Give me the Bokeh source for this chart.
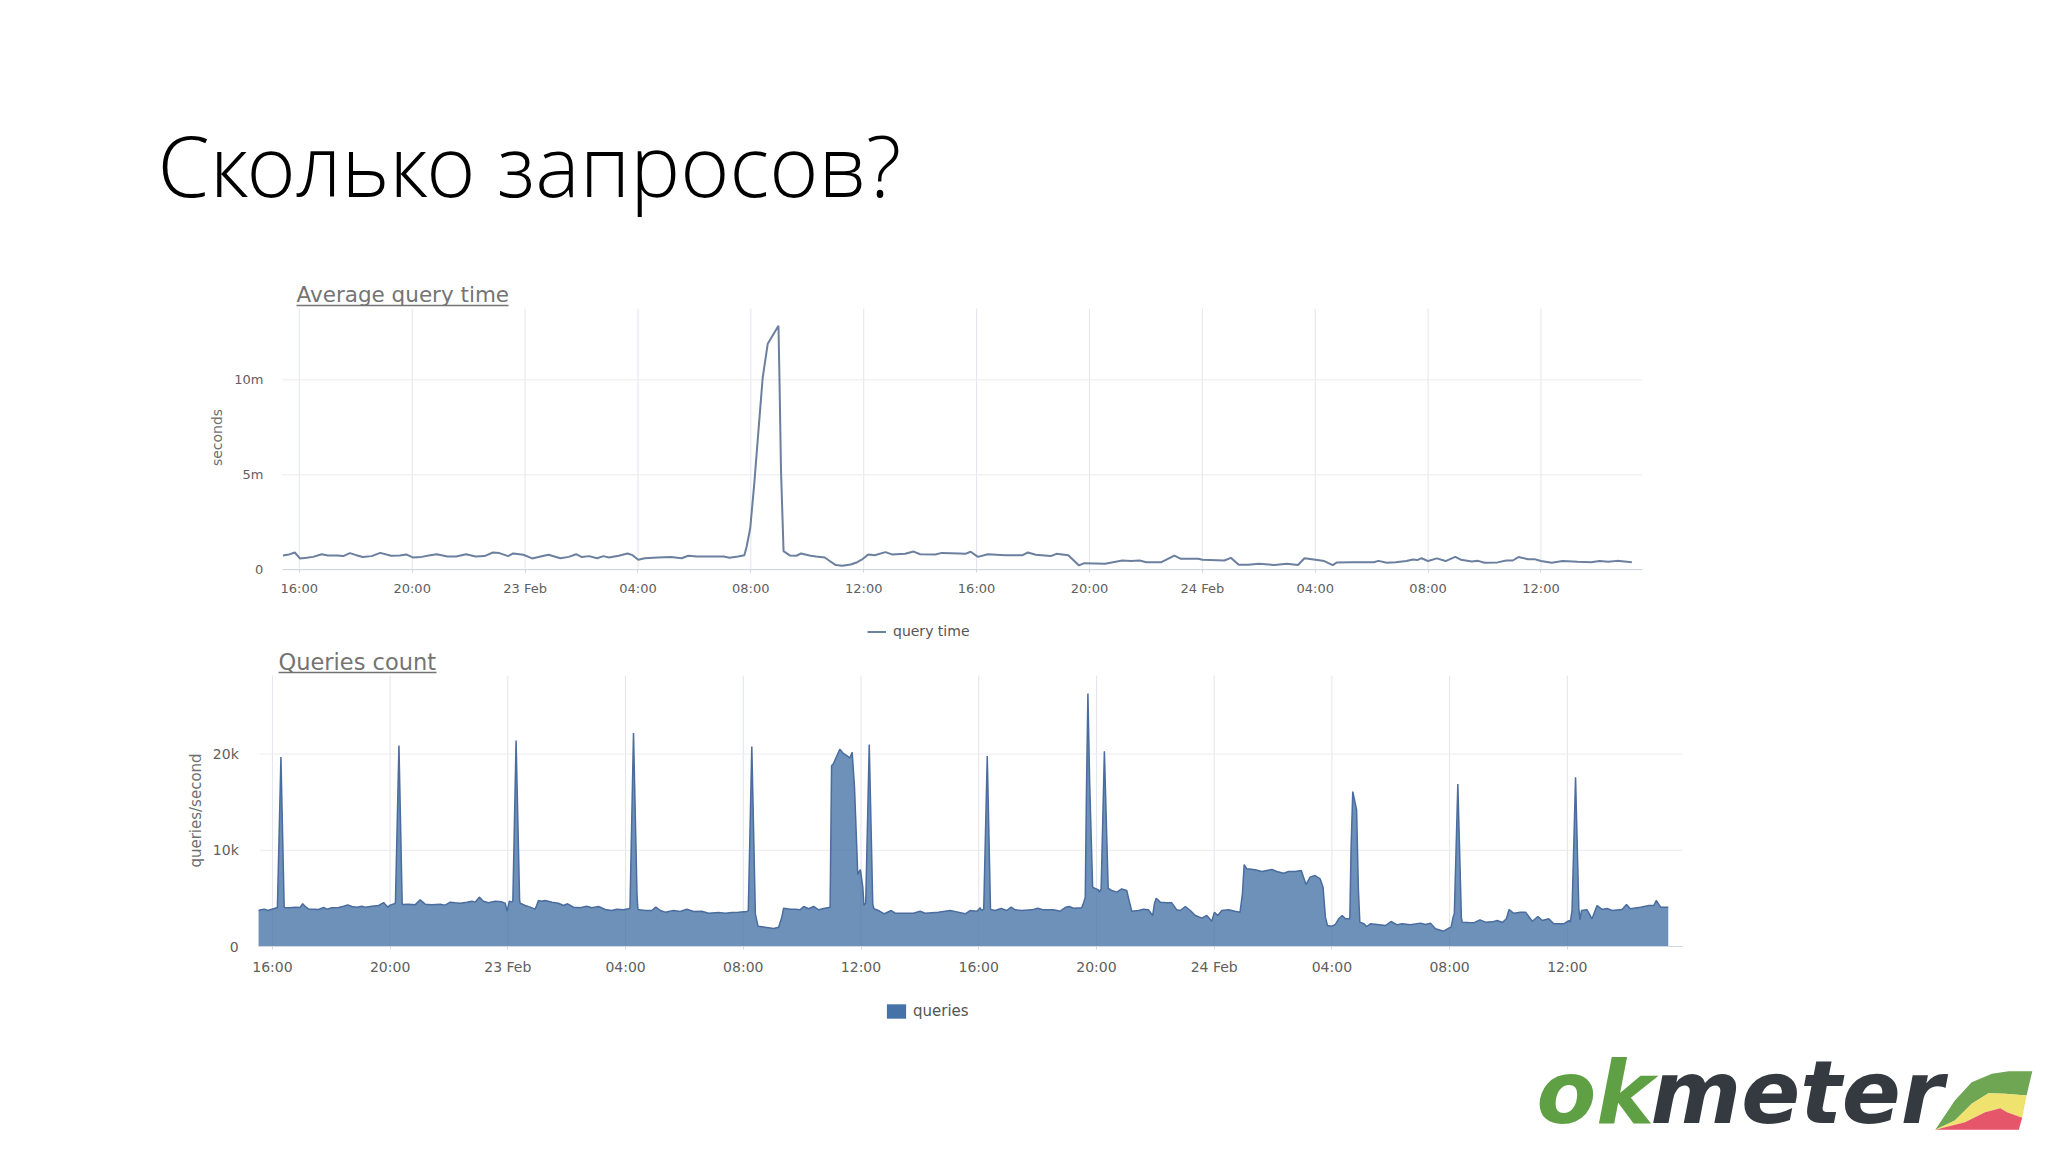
import math
from bokeh.plotting import figure
from bokeh.models import Range1d, FixedTicker, Label, Legend, LegendItem, LinearAxis
from bokeh.embed import file_html
from bokeh.resources import INLINE

slide_title = "Сколько запросов?"
chart1_title = "Average query time"
chart2_title = "Queries count"

# x positions are hours since 22 Feb 16:00
x_ticks = [0, 4, 8, 12, 16, 20, 24, 28, 32, 36, 40, 44]
x_labels = ["16:00", "20:00", "23 Feb", "04:00", "08:00", "12:00",
            "16:00", "20:00", "24 Feb", "04:00", "08:00", "12:00"]

time_ticks = [0, 5, 10]
time_labels = ["0", "5m", "10m"]
count_ticks = [0, 10, 20]
count_labels = ["0", "10k", "20k"]

time_hours = [-0.58, -0.36, -0.16, 0.02, 0.26, 0.49, 0.79, 1.02, 1.33, 1.56, 1.79, 2.02, 2.25, 2.56, 2.87, 3.25, 3.56,
              3.79, 4.02, 4.33, 4.64, 4.87, 5.25, 5.56, 5.91, 6.25, 6.56, 6.86, 7.09, 7.40, 7.58, 7.94, 8.25, 8.55,
              8.83, 9.25, 9.55, 9.81, 10.01, 10.27, 10.55, 10.78, 10.97, 11.32, 11.63, 11.81, 12.01, 12.24, 12.70,
              13.17, 13.55, 13.78, 14.09, 14.70, 15.04, 15.24, 15.55, 15.77, 15.85, 15.98, 16.12, 16.28, 16.42, 16.60,
              16.98, 17.01, 17.07, 17.16, 17.39, 17.62, 17.78, 18.08, 18.31, 18.62, 18.77, 19.01, 19.24, 19.54, 19.77,
              19.93, 20.16, 20.39, 20.77, 21.00, 21.47, 21.77, 22.00, 22.54, 22.77, 23.38, 23.60, 23.79, 24.05, 24.40,
              25.02, 25.63, 25.82, 26.10, 26.63, 26.83, 27.25, 27.63, 27.82, 28.55, 29.17, 29.47, 29.78, 30.01, 30.55,
              31.01, 31.24, 31.86, 32.00, 32.78, 33.01, 33.29, 33.63, 34.01, 34.55, 35.00, 35.39, 35.62, 36.01, 36.32,
              36.62, 36.77, 37.31, 38.08, 38.24, 38.54, 38.85, 39.23, 39.46, 39.62, 39.77, 40.00, 40.31, 40.62, 40.96,
              41.16, 41.55, 41.77, 42.00, 42.46, 42.77, 43.00, 43.20, 43.54, 43.77, 44.00, 44.38, 44.77, 45.30, 45.77,
              46.08, 46.38, 46.69, 47.22]
time_values = [0.75, 0.81, 0.91, 0.60, 0.63, 0.68, 0.82, 0.75, 0.75, 0.72, 0.88, 0.77, 0.67, 0.72, 0.89, 0.74, 0.75,
               0.81, 0.65, 0.68, 0.77, 0.82, 0.70, 0.70, 0.82, 0.70, 0.72, 0.91, 0.88, 0.72, 0.86, 0.79, 0.60, 0.70,
               0.79, 0.61, 0.68, 0.82, 0.67, 0.72, 0.61, 0.72, 0.65, 0.74, 0.86, 0.77, 0.53, 0.61, 0.65,
               0.67, 0.61, 0.74, 0.70, 0.70, 0.70, 0.63, 0.70, 0.77, 1.20, 2.20, 4.50, 7.50, 10.10, 11.90,
               12.84, 10.50, 5.20, 0.98, 0.75, 0.74, 0.86, 0.75, 0.70, 0.65, 0.49, 0.25, 0.21, 0.28, 0.40,
               0.53, 0.81, 0.77, 0.93, 0.81, 0.84, 0.96, 0.82, 0.81, 0.89, 0.86, 0.84, 0.95, 0.68, 0.82,
               0.77, 0.77, 0.91, 0.79, 0.72, 0.84, 0.77, 0.23, 0.35, 0.32, 0.49, 0.46, 0.49, 0.40, 0.40,
               0.75, 0.58, 0.58, 0.53, 0.49, 0.63, 0.26, 0.26, 0.32, 0.25, 0.32, 0.25, 0.61, 0.53, 0.46,
               0.25, 0.39, 0.40, 0.40, 0.47, 0.37, 0.40, 0.46, 0.54, 0.51, 0.61, 0.46, 0.60, 0.46, 0.68,
               0.53, 0.44, 0.47, 0.37, 0.39, 0.49, 0.49, 0.67, 0.56, 0.56, 0.46, 0.37, 0.46, 0.42, 0.40,
               0.46, 0.42, 0.47, 0.40]

count_hours = [-0.47, -0.38, -0.27, -0.16, -0.02, 0.15, 0.17, 0.29, 0.40, 0.41, 0.60, 0.77, 0.94, 1.03, 1.14, 1.23,
               1.40, 1.57, 1.74, 1.85, 2.02, 2.25, 2.42, 2.56, 2.70, 2.87, 3.04, 3.15, 3.38, 3.61, 3.78, 3.92, 4.00,
               4.14, 4.18, 4.30, 4.41, 4.42, 4.62, 4.85, 5.02, 5.19, 5.42, 5.70, 5.87, 6.04, 6.21, 6.38, 6.61, 6.78,
               6.89, 7.03, 7.17, 7.34, 7.57, 7.79, 7.91, 7.98, 8.05, 8.12, 8.17, 8.28, 8.40, 8.42, 8.59, 8.76, 8.93,
               9.04, 9.15, 9.27, 9.50, 9.72, 9.89, 10.03, 10.23, 10.46, 10.68, 10.85, 11.08, 11.31, 11.53, 11.70,
               11.93, 12.10, 12.15, 12.27, 12.39, 12.42, 12.46, 12.67, 12.89, 13.03, 13.18, 13.35, 13.63, 13.86, 14.08,
               14.31, 14.59, 14.82, 15.16, 15.39, 15.61, 15.84, 16.12, 16.17, 16.29, 16.41, 16.50, 16.74, 17.03, 17.20,
               17.31, 17.37, 17.60, 17.76, 17.93, 18.05, 18.22, 18.39, 18.56, 18.78, 18.95, 19.00, 19.06, 19.28, 19.39,
               19.54, 19.62, 19.70, 19.78, 19.89, 19.98, 20.06, 20.10, 20.16, 20.28, 20.40, 20.44, 20.59, 20.79, 21.03,
               21.16, 21.50, 21.78, 22.01, 22.18, 22.63, 23.03, 23.26, 23.54, 23.71, 23.94, 24.05, 24.10, 24.17, 24.29,
               24.40, 24.44, 24.56, 24.76, 24.95, 25.10, 25.24, 25.47, 25.81, 26.01, 26.20, 26.54, 26.77, 26.96, 27.07,
               27.22, 27.50, 27.57, 27.62, 27.66, 27.71, 27.77, 27.87, 27.90, 28.07, 28.10, 28.16, 28.27, 28.40, 28.44,
               28.52, 28.69, 28.86, 29.03, 29.11, 29.20, 29.43, 29.60, 29.77, 29.91, 29.97, 30.03, 30.17, 30.39, 30.56,
               30.73, 30.85, 31.02, 31.19, 31.36, 31.58, 31.75, 31.92, 32.01, 32.12, 32.26, 32.49, 32.71, 32.88, 32.96,
               33.02, 33.11, 33.39, 33.62, 33.96, 34.13, 34.36, 34.53, 34.75, 34.96, 35.12, 35.26, 35.43, 35.60, 35.70,
               35.78, 35.85, 36.00, 36.12, 36.23, 36.35, 36.46, 36.61, 36.65, 36.71, 36.84, 36.90, 36.95, 37.09, 37.18,
               37.31, 37.54, 37.82, 38.01, 38.22, 38.39, 38.67, 39.01, 39.18, 39.35, 39.52, 39.80, 39.97, 40.05, 40.12,
               40.16, 40.28, 40.40, 40.43, 40.65, 40.82, 41.03, 41.22, 41.45, 41.62, 41.79, 41.93, 42.02, 42.18, 42.41,
               42.58, 42.81, 43.00, 43.15, 43.37, 43.54, 43.88, 44.05, 44.10, 44.16, 44.28, 44.39, 44.43, 44.48, 44.67,
               44.84, 45.01, 45.18, 45.35, 45.52, 45.86, 46.01, 46.14, 46.49, 46.77, 46.94, 47.02, 47.17, 47.43]
count_values = [3.74, 3.81, 3.88, 3.74, 3.88, 4.02, 4.05, 19.7, 4.09, 4.05, 4.02, 4.09, 4.05, 4.44, 4.09, 3.88,
                3.88, 3.85, 4.05, 3.88, 4.02, 4.05, 4.19, 4.33, 4.16, 4.09, 4.19, 4.09, 4.19, 4.26, 4.57, 4.09, 4.30,
                4.44, 4.50, 20.9, 4.50, 4.37, 4.40, 4.33, 4.85, 4.40, 4.33, 4.40, 4.30, 4.61, 4.54, 4.50, 4.61, 4.71,
                4.61, 5.13, 4.71, 4.54, 4.71, 4.64, 4.50, 3.67, 4.71, 4.64, 4.70, 21.4, 4.80, 4.50, 4.26, 4.09, 3.88,
                4.78, 4.71, 4.78, 4.61, 4.50, 4.26, 4.44, 4.09, 4.02, 4.19, 4.02, 4.16, 3.85, 3.74, 3.88,
                3.81, 3.92, 3.98, 22.2, 5.30, 3.90, 3.81, 3.74, 3.74, 4.09, 3.74, 3.57, 3.74, 3.64, 3.88,
                3.64, 3.67, 3.46, 3.53, 3.46, 3.53, 3.57, 3.64, 3.70, 20.8, 3.40, 2.11, 2.01, 1.87, 2.01,
                3.05, 3.98, 3.88, 3.88, 3.81, 4.16, 3.92, 4.16, 3.81, 3.98, 4.09, 18.8, 19.0, 20.5, 20.1,
                19.8, 19.6, 20.2, 16.5, 7.50, 8.00, 6.20, 4.30, 4.50, 21.0, 4.40, 3.92, 3.74, 3.40, 3.74,
                3.46, 3.46, 3.46, 3.67, 3.46, 3.57, 3.74, 3.60, 3.40, 3.74, 3.67, 4.02, 3.74, 3.90, 19.8,
                3.90, 3.81, 3.74, 3.95, 3.74, 4.09, 3.81, 3.74, 3.81, 3.98, 3.81, 3.81, 3.67, 4.09, 4.16,
                3.98, 4.02, 4.61, 5.13, 16.0, 26.3, 17.0, 6.20, 6.10, 5.89, 5.65, 6.00, 20.3, 6.00, 5.99,
                5.82, 5.65, 5.99, 5.82, 4.78, 3.67, 3.74, 3.88, 3.81, 3.22, 4.44, 5.02, 4.61, 4.54, 4.54,
                3.81, 3.74, 4.16, 3.74, 3.22, 2.95, 3.22, 2.63, 3.57, 3.22, 3.74, 3.81, 3.67, 3.57, 5.47,
                8.52, 8.07, 7.97, 7.80, 8.00, 7.80, 7.62, 7.80, 7.80, 7.90, 6.44, 7.21, 7.38, 7.03, 6.17,
                3.05, 2.18, 2.11, 2.29, 2.88, 3.22, 2.88, 2.88, 10.0, 16.1, 14.2, 6.00, 2.53, 2.36, 2.08,
                2.36, 2.29, 2.18, 2.60, 2.25, 2.36, 2.25, 2.43, 2.29, 2.43, 1.84, 1.59, 1.91, 2.01, 3.05,
                3.40, 16.9, 3.00, 2.53, 2.49, 2.46, 2.77, 2.53, 2.56, 2.70, 2.49, 2.88, 3.85, 3.46, 3.57,
                3.57, 2.63, 3.12, 2.70, 2.88, 2.36, 2.36, 2.70, 2.53, 3.74, 17.6, 4.00, 2.77, 3.74, 3.81,
                2.88, 4.26, 3.85, 3.95, 3.74, 3.85, 4.37, 3.92, 4.09, 4.26, 4.26, 4.78, 4.09, 4.09]
count_floor = [0] * len(count_hours)

logo_green_x = [1232, 1290, 1340, 1400, 1450, 1520, 1503, 1440, 1390, 1340, 1290]
logo_green_y = [268, 180, 125, 100, 92, 92, 165, 160, 158, 190, 240]
logo_yellow_x = [1232, 1290, 1340, 1390, 1440, 1503, 1490, 1445, 1425, 1380, 1320]
logo_yellow_y = [268, 240, 190, 158, 160, 165, 232, 215, 203, 215, 245]
logo_red_x = [1232, 1320, 1380, 1425, 1445, 1490, 1480]
logo_red_y = [268, 245, 215, 203, 215, 232, 268]

W, H = 2040, 1144          # canvas size in px
OX, OY = 0, 0              # canvas origin on the page

TICK_COL = "#606060"
GRID_Y = "#ececf0"
GRID_X = "#e2e5ec"
AXIS_COL = "#d0d6e2"


def x_span(anchor_px, px_per_unit):
    return Range1d((OX - anchor_px) / px_per_unit, (OX + W - anchor_px) / px_per_unit)


def y_span(anchor_px, px_per_unit):
    # range start sits at the bottom of the canvas, end at its top
    return Range1d((anchor_px - (OY + H)) / px_per_unit, (anchor_px - OY) / px_per_unit)


p = figure(width=W, height=H, x_range=Range1d(OX, OX + W), y_range=Range1d(OY + H, OY),
           output_backend="svg", toolbar_location=None, x_axis_type=None, y_axis_type=None,
           min_border=0, outline_line_color=None)
p.grid.visible = False

p.extra_x_ranges["time_x"] = x_span(298.8, 28.22)
p.extra_y_ranges["time_y"] = y_span(569.3, 19.0)
p.extra_x_ranges["count_x"] = x_span(271.9, 29.43)
p.extra_y_ranges["count_y"] = y_span(946.0, 9.62)
p.extra_x_ranges["logo_x"] = Range1d((OX - 1520) * 2.97, (OX + W - 1520) * 2.97)
p.extra_y_ranges["logo_y"] = Range1d((OY + H - 1040) * 3, (OY - 1040) * 3)


def chart(xn, yn, x0, x1, ytop, yticks, ylabs, tick_px, x_standoff, y_standoff):
    p.segment(x_ticks, [0] * len(x_ticks), x_ticks, [ytop] * len(x_ticks), x_range_name=xn, y_range_name=yn,
              line_color=GRID_X, line_width=1)
    p.segment([x0] * len(yticks), yticks, [x1] * len(yticks), yticks, x_range_name=xn, y_range_name=yn,
              line_color=GRID_Y, line_width=1)
    xa = LinearAxis(x_range_name=xn, y_range_name=yn, fixed_location=0, bounds=(x0, x1),
                    ticker=FixedTicker(ticks=x_ticks), major_label_overrides=dict(zip(x_ticks, x_labels)),
                    axis_line_color=AXIS_COL, major_tick_line_color=AXIS_COL, major_tick_in=0, major_tick_out=3,
                    minor_tick_line_color=None, major_label_standoff=x_standoff,
                    major_label_text_font="DejaVu Sans", major_label_text_font_size=tick_px,
                    major_label_text_color=TICK_COL)
    ya = LinearAxis(x_range_name=xn, y_range_name=yn, fixed_location=x0, bounds=(0, ytop),
                    ticker=FixedTicker(ticks=yticks), major_label_overrides=dict(zip(yticks, ylabs)),
                    axis_line_color=None, major_tick_line_color=None, major_tick_in=0, major_tick_out=0,
                    minor_tick_line_color=None, major_label_standoff=y_standoff,
                    major_label_text_font="DejaVu Sans", major_label_text_font_size=tick_px,
                    major_label_text_color=TICK_COL)
    p.add_layout(xa, "below")
    p.add_layout(ya, "left")


def heading(text, x, y, px, ul_w, ul_y):
    p.add_layout(Label(x=x, y=y, text=text, text_font="DejaVu Sans", text_font_size=px,
                       text_color="#747474", text_baseline="alphabetic"))
    p.segment([x], [ul_y], [x + ul_w], [ul_y], line_color="#747474", line_width=1.5)


def side_label(text, x, y, px):
    p.add_layout(Label(x=x, y=y, text=text, angle=math.pi / 2, text_font="DejaVu Sans", text_font_size=px,
                       text_color="#707070", text_align="center", text_baseline="middle"))


# ---------- slide heading
p.add_layout(Label(x=157, y=164, text=slide_title, text_font="Open Sans Light", text_font_size="84px",
                   text_color="#000000", text_baseline="alphabetic"))

# ---------- chart 1
chart("time_x", "time_y", -0.60, 47.59, 13.75, time_ticks, time_labels, "13px", 8, 19)
r1 = p.line(time_hours, time_values, x_range_name="time_x", y_range_name="time_y",
            line_color="#6b7f9e", line_width=2)
heading(chart1_title, 296, 294, "21.5px", 212, 305)
side_label("seconds", 216, 437, "14px")

# ---------- chart 2
chart("count_x", "count_y", -0.43, 47.92, 28.17, count_ticks, count_labels, "14px", 9, 21)
p.varea(count_hours, count_floor, count_values, x_range_name="count_x", y_range_name="count_y",
        fill_color="#4572A7", fill_alpha=0.78)
p.line(count_hours, count_values, x_range_name="count_x", y_range_name="count_y",
       line_color="#4a6c9e", line_width=1.5)
proxy = p.varea(count_hours, count_floor, count_floor, x_range_name="count_x", y_range_name="count_y",
                fill_color="#4572A7")
heading(chart2_title, 278, 661, "22.5px", 158, 672)
side_label("queries/second", 195, 810, "15px")

leg1 = Legend(items=[LegendItem(label="query time", renderers=[r1])], location=(867 - OX, OY + H - 639),
              background_fill_alpha=0, border_line_color=None, margin=0, padding=0,
              glyph_width=19, glyph_height=15, label_standoff=7, label_text_font="DejaVu Sans",
              label_text_font_size="14px", label_text_color="#555555")
leg2 = Legend(items=[LegendItem(label="queries", renderers=[proxy])], location=(884 - OX, OY + H - 1020),
              background_fill_alpha=0, border_line_color=None, margin=0, padding=0,
              glyph_width=24, glyph_height=18, label_standoff=5, label_text_font="DejaVu Sans",
              label_text_font_size="15px", label_text_color="#555555")
p.add_layout(leg1)
p.add_layout(leg2)

# ---------- logo
p.patch(logo_green_x, logo_green_y, x_range_name="logo_x", y_range_name="logo_y", fill_color="#6ea653", line_color=None)
p.patch(logo_yellow_x, logo_yellow_y, x_range_name="logo_x", y_range_name="logo_y", fill_color="#efe26e", line_color=None)
p.patch(logo_red_x, logo_red_y, x_range_name="logo_x", y_range_name="logo_y", fill_color="#e5566b", line_color=None)
p.add_layout(Label(x=1536, y=1092, text="ok", text_font="DejaVu Sans", text_font_style="bold italic",
                   text_font_size="87px", text_color="#5fa044", text_baseline="alphabetic"))
p.add_layout(Label(x=1650, y=1092, text="meter", text_font="DejaVu Sans", text_font_style="bold italic",
                   text_font_size="87px", text_color="#343a40", text_baseline="alphabetic"))

open("out.html", "w").write(file_html(p, INLINE))
